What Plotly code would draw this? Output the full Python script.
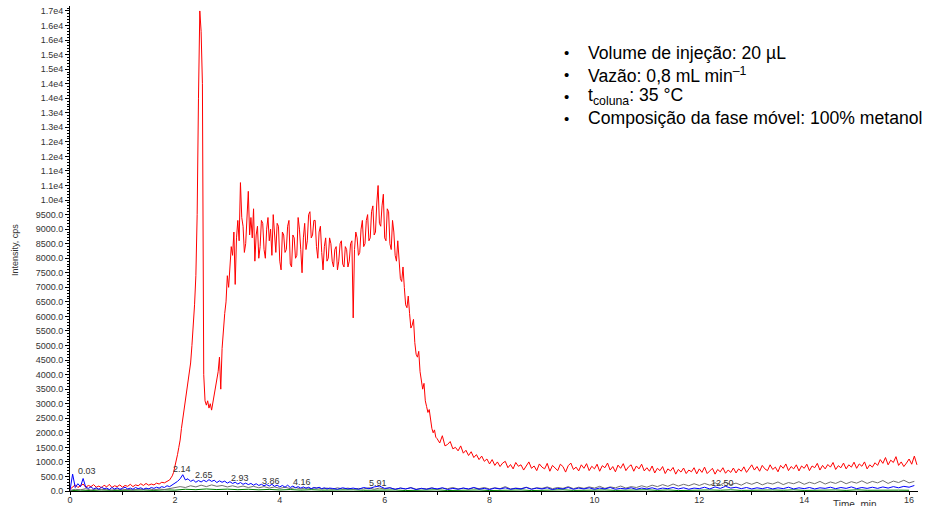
import numpy as np
import plotly.graph_objects as go

# ---------------- data ----------------
# red XIC, sampled in four segments (time grid start, step)
red_a_start, red_a_step = 0.0, 0.05
red_a = [60, 150, 210, 120, 180, 240, 130, 190, 150, 220, 130, 170, 110, 200, 140, 230, 120, 180, 150, 210,
         130, 190, 160, 230, 150, 210, 180, 250, 190, 260, 200, 240, 210, 270, 240, 300, 280, 340]
red_b_start, red_b_step = 1.90, 0.025
red_b = [380, 450, 520, 640, 820, 1000, 1250, 1500, 1750, 2150, 2450, 2850, 3200, 3400, 3700, 3950,
         4400, 5000, 5600, 6400, 7400, 9500, 13500, 16500, 15800, 14000, 4000, 3100, 2950, 3100, 2850,
         3000, 2780, 3050, 3300, 3500, 3800, 4100, 4600, 3500, 4900, 5600, 6100, 6500, 7400, 7000,
         7900, 8400, 8100, 8900, 7100, 8700]
red_c_start, red_c_step = 3.20, 0.025
red_c = [9300, 8600, 10600, 9400, 9100, 8200, 8500, 9600, 10300, 8800, 9400, 8700, 9700,
         7900, 8800, 9100, 8000, 8400, 9300, 9200, 8300, 8000, 9000, 9400, 8600,
         9000, 8100, 9500, 8600, 8200, 9200, 9100, 7900, 7600, 8900, 8800, 8200,
         8300, 9100, 9300, 7800, 7700, 8800, 8700, 8000, 8100, 9400, 9000, 8300,
         7500, 8700, 9200, 8300, 8600, 9500, 9600, 8700, 8800, 9300, 9300, 8400,
         8000, 8900, 9100, 8200, 7600, 8400, 8700, 7900, 8000, 8700, 8500, 7900,
         7700, 8300, 8400, 7600, 7900, 8500, 8600, 7800, 7700, 8400, 8300, 7700,
         7900, 8500, 8600, 5950, 8300, 8900, 8700, 8100, 8200, 9000, 9300, 8400,
         8500, 9300, 9500, 8600, 8700, 9600, 9800, 8800, 8900, 9900, 10500, 9200,
         9100, 9800, 10200, 8700, 8600, 9700, 9600, 8500, 8300, 9300, 8900, 8100,
         7900, 8600, 8000, 7300, 7200, 7700, 7000, 6400, 6300, 6700, 6100, 5600,
         5700, 5900, 5100, 4700, 4600, 4800, 4100, 3700, 3500, 3700, 3100, 2900,
         2700, 2800, 2350, 2150, 2000, 2100, 1850]
red_d_start, red_d_step = 7.00, 0.05
red_d = [1800, 1650, 1900, 1550, 1600, 1700, 1450, 1500, 1380, 1550, 1300, 1400, 1220, 1350, 1150, 1250, 1080, 1200, 1020, 1100,
         930, 1080, 880, 1000, 840, 960, 1020, 800, 910, 760, 980, 850, 900, 720, 880, 1000, 780, 860, 700, 930,
         820, 760, 950, 680, 880, 790, 700, 920, 840, 650, 870, 960, 740, 820, 690, 900, 780, 940, 700, 850,
         760, 920, 680, 870, 800, 960, 720, 840, 660, 890, 780, 940, 700, 830, 900, 680, 860, 760, 920, 690,
         800, 680, 860, 620, 780, 700, 840, 600, 760, 690, 810, 580, 740, 650, 790, 600, 720, 660, 800, 590,
         760, 640, 820, 600, 700, 780, 580, 740, 660, 800, 610, 720, 640, 790, 620, 760, 680, 830, 640, 760,
         900, 720, 840, 680, 880, 760, 700, 900, 740, 820, 660, 880, 780, 930, 700, 840, 760, 900, 690, 860,
         780, 920, 700, 860, 800, 950, 720, 880, 760, 910, 820, 980, 740, 870, 800, 960, 760, 900, 820, 990,
         780, 930, 850, 1000, 760, 900, 820, 970, 880, 1080, 950, 1150, 900, 1060, 980, 1180, 880, 1000, 840, 960,
         1100, 920, 1200, 900]

blue_a_start, blue_a_step = 0.0, 0.05
blue_a = [30, 580, 120, 250, 150, 430, 130, 90, 140, 70, 110, 60, 130, 80, 100, 50, 120, 70, 110, 60,
          90, 130, 70, 100, 60, 120, 80, 110, 60, 100, 70, 120, 90, 130, 100, 150, 120, 180, 150, 210,
          260, 330, 420, 560, 380, 420, 330, 380, 300, 360, 310, 370, 320, 390, 330, 370, 290, 350, 300, 340,
          270, 320, 260, 300, 240, 290, 230, 270, 220, 260, 200, 250, 190, 230, 180, 220, 170, 230, 160, 200,
          140, 190, 130, 200, 120, 170, 110, 150, 100, 140, 90, 130, 80, 120, 90, 130, 80, 110, 70, 100]
blue_b_start, blue_b_step = 5.0, 0.1
blue_b = [90, 60, 110, 70, 100, 60, 120, 80, 140, 170, 90, 110, 60, 100, 70, 110, 50, 90, 60, 100,
          70, 110, 50, 90, 60, 100, 70, 120, 60, 90, 50, 100, 70, 110, 60, 90, 70, 120, 60, 100,
          70, 110, 50, 90, 70, 120, 60, 100, 70, 110, 60, 100, 70, 120, 60, 90, 70, 110, 60, 100,
          70, 110, 60, 100, 80, 120, 70, 110, 60, 100, 80, 130, 70, 140, 90, 160, 100, 130, 80, 120,
          70, 110, 80, 120, 70, 110, 80, 130, 70, 110, 80, 120, 70, 110, 90, 130, 80, 120, 90, 140,
          80, 120, 90, 130, 90, 140, 100, 150, 110, 160, 130, 190]

grey_start, grey_step = 0.0, 0.1
grey = [20, 60, 40, 80, 30, 70, 40, 60, 30, 70, 40, 60, 30, 70, 50, 80, 40, 70, 50, 90,
        110, 150, 120, 180, 140, 200, 150, 210, 160, 190, 140, 180, 130, 170, 120, 160, 110, 150, 100, 140,
        90, 130, 80, 120, 70, 110, 80, 120, 70, 100, 60, 110, 70, 100, 60, 90, 70, 110, 60, 100,
        70, 110, 60, 100, 70, 120, 60, 90, 70, 110, 60, 100, 80, 120, 70, 100, 60, 110, 80, 120,
        70, 110, 80, 150, 70, 100, 80, 130, 70, 110, 90, 140, 80, 120, 90, 150, 80, 130, 90, 140,
        100, 160, 90, 140, 110, 170, 100, 150, 120, 180, 130, 200, 150, 220, 160, 240, 170, 230, 180, 250,
        190, 260, 200, 280, 210, 300, 220, 270, 200, 290, 230, 300, 210, 280, 240, 310, 220, 290, 250, 320,
        230, 300, 250, 330, 240, 310, 260, 340, 250, 320, 270, 350, 260, 330, 280, 360, 260, 340, 290, 370,
        280, 330]

green_start, green_step = 0.0, 0.2
green = [10, 30, 15, 35, 20, 30, 15, 35, 20, 40, 30, 60, 45, 70, 50, 65, 45, 60, 40, 55,
         35, 50, 30, 45, 30, 40, 25, 40, 25, 35, 20, 35, 15, 30, 20, 40, 15, 30, 25, 35,
         15, 30, 20, 35, 15, 30, 25, 40, 20, 30, 15, 35, 20, 30, 25, 40, 20, 35, 15, 30,
         20, 35, 25, 40, 20, 30, 15, 35, 25, 40, 20, 30, 25, 35, 20, 40, 25, 35, 20, 30, 25]

peak_labels = ["0.03", "2.14", "2.65", "2.93", "3.86", "4.16", "5.91", "12.50"]
peak_label_x = [0.32, 2.13, 2.55, 3.24, 3.84, 4.42, 5.88, 12.44]
peak_label_y = [680, 740, 560, 430, 340, 320, 290, 290]

y_tick_vals = list(range(0, 17000, 500))
y_tick_text = ["0.0", "500.0", "1000.0", "1500.0", "2000.0", "2500.0", "3000.0", "3500.0", "4000.0",
               "4500.0", "5000.0", "5500.0", "6000.0", "6500.0", "7000.0", "7500.0", "8000.0", "8500.0",
               "9000.0", "9500.0", "1.0e4", "1.1e4", "1.1e4", "1.2e4", "1.2e4", "1.3e4", "1.3e4", "1.4e4",
               "1.4e4", "1.5e4", "1.5e4", "1.6e4", "1.6e4", "1.7e4"]
x_tick_vals = [0, 2, 4, 6, 8, 10, 12, 14, 16]
x_tick_text = ["0", "2", "4", "6", "8", "10", "12", "14", "16"]

info_lines = ["Volume de injeção: 20 µL",
              "Vazão: 0,8 mL min<sup>–1</sup>",
              "t<sub>coluna</sub>: 35 °C",
              "Composição da fase móvel: 100% metanol"]


def grid(start, step, vals):
    return np.round(start + step * np.arange(len(vals)), 4)


red_t = np.concatenate([grid(red_a_start, red_a_step, red_a),
                        grid(red_b_start, red_b_step, red_b),
                        grid(red_c_start, red_c_step, red_c),
                        grid(red_d_start, red_d_step, red_d)])
red_i = red_a + red_b + red_c + red_d
blue_t = np.concatenate([grid(blue_a_start, blue_a_step, blue_a), grid(blue_b_start, blue_b_step, blue_b)])
blue_i = blue_a + blue_b

fig = go.Figure()
fig.add_trace(go.Scatter(x=red_t, y=red_i, mode="lines", line=dict(color="#ff0000", width=1)))
fig.add_trace(go.Scatter(x=grid(green_start, green_step, green), y=green, mode="lines",
                         line=dict(color="#008000", width=1)))
fig.add_trace(go.Scatter(x=grid(grey_start, grey_step, grey), y=grey, mode="lines",
                         line=dict(color="#707070", width=1)))
fig.add_trace(go.Scatter(x=blue_t, y=blue_i, mode="lines", line=dict(color="#0000ff", width=1)))

font_fam = "Liberation Sans, Arial, sans-serif"

for txt, px, py in zip(peak_labels, peak_label_x, peak_label_y):
    fig.add_annotation(x=px, y=py, text=txt, showarrow=False, xanchor="center", yanchor="middle",
                       font=dict(family=font_fam, size=9, color="#333333"))

line_y_px = [53, 75, 96, 118]
for txt, ypx in zip(info_lines, line_y_px):
    yp = 1 - (ypx - 6) / 485
    fig.add_annotation(xref="paper", yref="paper", x=(566 - 70) / 848, y=yp, text="•",
                       showarrow=False, xanchor="center", yanchor="middle",
                       font=dict(family=font_fam, size=15, color="#000000"))
    fig.add_annotation(xref="paper", yref="paper", x=(586 - 70) / 848, y=yp, text=txt,
                       showarrow=False, xanchor="left", yanchor="middle",
                       font=dict(family=font_fam, size=17.6, color="#000000"))

fig.add_annotation(xref="paper", yref="paper", x=0, y=(491 - 250) / 485, xshift=-55,
                   text="Intensity, cps", textangle=-90, showarrow=False,
                   xanchor="center", yanchor="middle",
                   font=dict(family="Liberation Sans Narrow, Liberation Sans, Arial", size=9, color="#333333"))
fig.add_annotation(xref="paper", yref="paper", x=(855 - 70) / 848, y=0, yshift=-13,
                   text="Time, min", showarrow=False, xanchor="center", yanchor="middle",
                   font=dict(family=font_fam, size=10, color="#333333"))

fig.update_layout(
    width=937, height=506,
    margin=dict(l=70, r=19, t=6, b=15, autoexpand=False),
    paper_bgcolor="white", plot_bgcolor="white",
    showlegend=False,
    font=dict(family=font_fam, size=9, color="#333333"),
    xaxis=dict(range=[0, 16.17], showgrid=False, zeroline=False, showline=True, linecolor="#000000",
               linewidth=1, ticks="outside", ticklen=3, tickcolor="#000000", automargin=False,
               tickvals=x_tick_vals, ticktext=x_tick_text, tickfont=dict(size=9, color="#333333"),
               ticklabelstandoff=-3,
               minor=dict(dtick=1, ticks="outside", ticklen=3, tickcolor="#000000")),
    yaxis=dict(range=[0, 16670], showgrid=False, zeroline=False, showline=True, linecolor="#000000",
               linewidth=1, ticks="outside", ticklen=4, tickcolor="#000000", automargin=False,
               tickvals=y_tick_vals, ticktext=y_tick_text, tickfont=dict(size=9, color="#333333"),
               minor=dict(dtick=100, ticks="outside", ticklen=2, tickcolor="#000000")),
)

fig.write_html("out.html")
